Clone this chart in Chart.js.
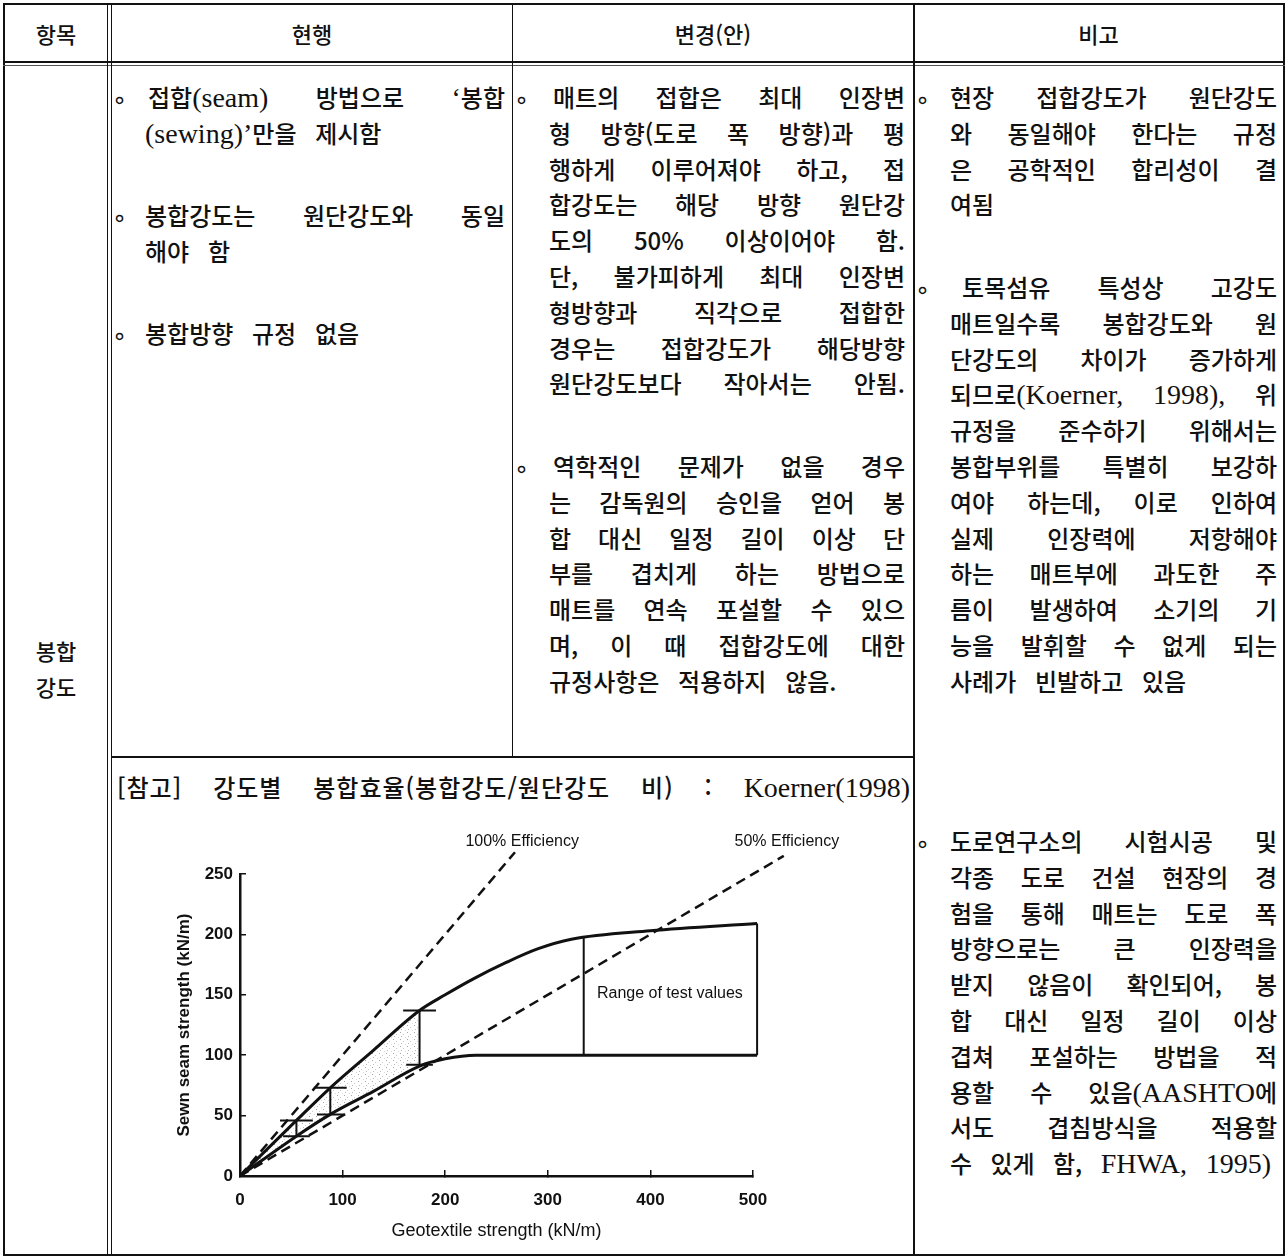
<!DOCTYPE html>
<html lang="ko">
<head>
<meta charset="utf-8">
<script src="https://cdn.jsdelivr.net/npm/chart.js@4.4.1/dist/chart.umd.min.js"></script>
<style>
html,body{margin:0;padding:0;background:#fff;}
body{width:1288px;height:1260px;position:relative;overflow:hidden;font-family:"Noto Sans CJK KR",sans-serif;color:#111;}
.ln{position:absolute;background:#111;}
.hd{position:absolute;font-size:22px;line-height:30px;top:18px;text-align:center;font-weight:500;}
.p{position:absolute;font-size:24px;line-height:35.8px;font-weight:500;}
.p div{height:35.8px;overflow:visible;white-space:nowrap;}
.j{text-align:justify;text-align-last:justify;white-space:normal!important;}
.l{text-align:left;word-spacing:12px;}
.s{font-family:"Liberation Serif",serif;font-size:28px;font-weight:400;word-spacing:0;}
.b{position:absolute;font-family:"DejaVu Sans",sans-serif;font-size:24px;line-height:24px;}
#wrap{position:absolute;left:140px;top:800px;width:720px;height:452px;}
</style>
</head>
<body>
<!-- table frame -->
<div class="ln" style="left:3px;top:3px;width:1282px;height:2px"></div>
<div class="ln" style="left:3px;top:1254px;width:1282px;height:2px"></div>
<div class="ln" style="left:3px;top:3px;width:2px;height:1253px"></div>
<div class="ln" style="left:1283px;top:3px;width:2px;height:1253px"></div>
<div class="ln" style="left:3px;top:61px;width:1282px;height:2px"></div>
<div class="ln" style="left:3px;top:65px;width:1282px;height:1px;background:#555"></div>
<div class="ln" style="left:107px;top:3px;width:1px;height:1253px"></div>
<div class="ln" style="left:111px;top:3px;width:1px;height:1253px"></div>
<div class="ln" style="left:512px;top:3px;width:1px;height:754px"></div>
<div class="ln" style="left:913px;top:3px;width:1.5px;height:1253px"></div>
<div class="ln" style="left:111px;top:756px;width:803px;height:1.5px"></div>

<!-- header -->
<div class="hd" style="left:5px;width:102px">항목</div>
<div class="hd" style="left:112px;width:400px">현행</div>
<div class="hd" style="left:513px;width:400px">변경(안)</div>
<div class="hd" style="left:914px;width:369px">비고</div>

<div class="hd" style="left:5px;width:102px;top:632px;line-height:36px">봉합<br>강도</div>

<!-- column 2 -->
<div class="b" style="left:112px;top:88px">∘</div>
<div class="p" style="left:145px;top:79px;width:360px">
<div class="j" style="padding-left:3px">접합<span class="s">(seam)</span> 방법으로 <span class="s">‘</span>봉합</div>
<div class="l"><span class="s">(sewing)’</span>만을 제시함</div>
</div>
<div class="b" style="left:112px;top:206px">∘</div>
<div class="p" style="left:145px;top:197px;width:360px">
<div class="j">봉합강도는 원단강도와 동일</div>
<div class="l">해야 함</div>
</div>
<div class="b" style="left:112px;top:324px">∘</div>
<div class="p" style="left:145px;top:315px;width:360px">
<div class="l">봉합방향 규정 없음</div>
</div>

<!-- column 3 -->
<div class="b" style="left:514px;top:88px">∘</div>
<div class="p" style="left:549px;top:79px;width:356px">
<div class="j" style="padding-left:4px">매트의 접합은 최대 인장변</div>
<div class="j">형 방향(도로 폭 방향)과 평</div>
<div class="j">행하게 이루어져야 하고, 접</div>
<div class="j">합강도는 해당 방향 원단강</div>
<div class="j">도의 50% 이상이어야 함.</div>
<div class="j">단, 불가피하게 최대 인장변</div>
<div class="j">형방향과 직각으로 접합한</div>
<div class="j">경우는 접합강도가 해당방향</div>
<div class="j">원단강도보다 작아서는 안됨.</div>
</div>
<div class="b" style="left:514px;top:457px">∘</div>
<div class="p" style="left:549px;top:448px;width:356px">
<div class="j" style="padding-left:4px">역학적인 문제가 없을 경우</div>
<div class="j">는 감독원의 승인을 얻어 봉</div>
<div class="j">합 대신 일정 길이 이상 단</div>
<div class="j">부를 겹치게 하는 방법으로</div>
<div class="j">매트를 연속 포설할 수 있으</div>
<div class="j">며, 이 때 접합강도에 대한</div>
<div class="l">규정사항은 적용하지 않음.</div>
</div>

<!-- column 4 -->
<div class="b" style="left:915px;top:88px">∘</div>
<div class="p" style="left:950px;top:79px;width:327px">
<div class="j">현장 접합강도가 원단강도</div>
<div class="j">와 동일해야 한다는 규정</div>
<div class="j">은 공학적인 합리성이 결</div>
<div class="l">여됨</div>
</div>
<div class="b" style="left:915px;top:278px">∘</div>
<div class="p" style="left:950px;top:269px;width:327px">
<div class="j" style="padding-left:12px">토목섬유 특성상 고강도</div>
<div class="j">매트일수록 봉합강도와 원</div>
<div class="j">단강도의 차이가 증가하게</div>
<div class="j">되므로<span class="s">(Koerner, 1998),</span> 위</div>
<div class="j">규정을 준수하기 위해서는</div>
<div class="j">봉합부위를 특별히 보강하</div>
<div class="j">여야 하는데, 이로 인하여</div>
<div class="j">실제 인장력에 저항해야</div>
<div class="j">하는 매트부에 과도한 주</div>
<div class="j">름이 발생하여 소기의 기</div>
<div class="j">능을 발휘할 수 없게 되는</div>
<div class="l">사례가 빈발하고 있음</div>
</div>
<div class="b" style="left:915px;top:832px">∘</div>
<div class="p" style="left:950px;top:823px;width:327px">
<div class="j">도로연구소의 시험시공 및</div>
<div class="j">각종 도로 건설 현장의 경</div>
<div class="j">험을 통해 매트는 도로 폭</div>
<div class="j">방향으로는 큰 인장력을</div>
<div class="j">받지 않음이 확인되어, 봉</div>
<div class="j">합 대신 일정 길이 이상</div>
<div class="j">겹쳐 포설하는 방법을 적</div>
<div class="j">용할 수 있음<span class="s">(AASHTO</span>에</div>
<div class="j">서도 겹침방식을 적용할</div>
<div class="j" style="padding-right:6px">수 있게 함, <span class="s">FHWA, 1995)</span></div>
</div>

<!-- chart caption -->
<div class="p" style="left:117px;top:769px;width:793px">
<div class="j" style="letter-spacing:1px">[참고] 강도별 봉합효율(봉합강도/원단강도 비) : <span class="s" style="letter-spacing:0">Koerner(1998)</span></div>
</div>

<div id="wrap"><canvas id="c" width="720" height="452"></canvas></div>

<script>
// ---- data ----
const xTicks = [0, 100, 200, 300, 400, 500];
const yTicks = [0, 50, 100, 150, 200, 250];
const upperX = [0, 55, 88, 130, 175, 200, 227, 260, 290, 323, 400, 504];
const upperY = [0, 46, 73, 104, 137, 150, 163, 177, 188, 196, 203, 209];
const lowerX = [0, 55, 88, 130, 175, 200, 230, 300, 400, 504];
const lowerY = [0, 33, 51, 70, 91, 97, 100, 100, 100, 100];
const eff100X = [0, 268];
const eff100Y = [0, 268];
const eff50X = [0, 530];
const eff50Y = [0, 265];
const barX = [55, 88, 175];
const barLow = [33, 51, 92];
const barHigh = [46, 73, 137];
const rangeX = [335, 504];
const rangeLow = [100, 100];
const rangeHigh = [197, 209];
const shadeMaxX = 175;
const noteText = ['100% Efficiency', '50% Efficiency', 'Range of test values'];
const noteX = [275, 533, 419];
const noteY = [277, 277, 151];

// ---- build point lists ----
const pts = (xs, ys) => xs.map((x, i) => ({x, y: ys[i]}));
const GAP = {x: null, y: null};
const capTop = 16, capBot = 13;
const barPts = [];
barX.forEach((x, i) => {
  barPts.push({x, y: barLow[i]}, {x, y: barHigh[i]}, GAP);
  barPts.push({x: x - capTop, y: barHigh[i]}, {x: x + capTop, y: barHigh[i]}, GAP);
  barPts.push({x: x - capBot, y: barLow[i]}, {x: x + capBot, y: barLow[i]}, GAP);
});
const rangePts = [];
rangeX.forEach((x, i) => { rangePts.push({x, y: rangeLow[i]}, {x, y: rangeHigh[i]}, GAP); });
const shadeTop = pts(upperX, upperY).filter(p => p.x <= shadeMaxX);
const shadeBot = pts(lowerX, lowerY).filter(p => p.x <= shadeMaxX);

// stipple pattern
const pc = document.createElement('canvas');
pc.width = 7; pc.height = 7;
const pctx = pc.getContext('2d');
[[1, 1, 0.35], [4, 3, 0.22], [2, 5, 0.28], [6, 6, 0.15]].forEach(([x, y, a]) => {
  pctx.fillStyle = 'rgba(0,0,0,' + a + ')';
  pctx.fillRect(x, y, 1, 1);
});
const ctx = document.getElementById('c').getContext('2d');
const stipple = ctx.createPattern(pc, 'repeat');

const INK = '#111';
const FONT = '"Liberation Sans", Arial, sans-serif';
const base = {pointRadius: 0, pointHoverRadius: 0, borderColor: INK, clip: false, fill: false, spanGaps: false};

const notesPlugin = {
  id: 'notes',
  afterDatasetsDraw(chart) {
    const {ctx, scales: {x, y}} = chart;
    ctx.save();
    ctx.fillStyle = INK;
    ctx.font = '16px ' + FONT;
    ctx.textAlign = 'center';
    ctx.textBaseline = 'middle';
    noteText.forEach((t, i) => ctx.fillText(t, x.getPixelForValue(noteX[i]), y.getPixelForValue(noteY[i])));
    ctx.restore();
  }
};

new Chart(ctx, {
  type: 'scatter',
  data: {
    datasets: [
      Object.assign({}, base, {label: 'upper', data: pts(upperX, upperY), showLine: true, borderWidth: 3, cubicInterpolationMode: 'monotone'}),
      Object.assign({}, base, {label: 'lower', data: pts(lowerX, lowerY), showLine: true, borderWidth: 3, cubicInterpolationMode: 'monotone'}),
      Object.assign({}, base, {label: 'bars', data: barPts, showLine: true, borderWidth: 2}),
      Object.assign({}, base, {label: 'range', data: rangePts, showLine: true, borderWidth: 2}),
      Object.assign({}, base, {label: '100%', data: pts(eff100X, eff100Y), showLine: true, borderWidth: 2.5, borderDash: [10, 6]}),
      Object.assign({}, base, {label: '50%', data: pts(eff50X, eff50Y), showLine: true, borderWidth: 2.5, borderDash: [10, 6]}),
      Object.assign({}, base, {label: 'shadeTop', data: shadeTop, showLine: true, borderWidth: 0, borderColor: 'rgba(0,0,0,0)', cubicInterpolationMode: 'monotone', fill: '+1', backgroundColor: stipple}),
      Object.assign({}, base, {label: 'shadeBot', data: shadeBot, showLine: true, borderWidth: 0, borderColor: 'rgba(0,0,0,0)', cubicInterpolationMode: 'monotone'})
    ]
  },
  options: {
    responsive: false,
    animation: false,
    devicePixelRatio: 1,
    layout: {padding: {left: 20, right: 107, top: 74, bottom: 0}},
    plugins: {legend: {display: false}, tooltip: {enabled: false}},
    scales: {
      x: {
        type: 'linear', min: 0, max: 500,
        afterFit: s => { s.height = 76; },
        afterBuildTicks: s => { s.ticks = xTicks.map(v => ({value: v})); },
        grid: {display: true, drawOnChartArea: false, drawTicks: true, tickLength: -6, color: INK, lineWidth: 1.5},
        border: {display: true, color: INK, width: 2.5},
        ticks: {padding: 20, color: INK, font: {family: FONT, size: 17, weight: 'bold'}},
        title: {display: true, text: 'Geotextile strength (kN/m)', color: INK, padding: {top: 0, bottom: 10}, font: {family: FONT, size: 18}}
      },
      y: {
        type: 'linear', min: 0, max: 250,
        afterFit: s => { s.width = 80; },
        afterBuildTicks: s => { s.ticks = yTicks.map(v => ({value: v})); },
        grid: {display: true, drawOnChartArea: false, drawTicks: true, tickLength: -6, color: INK, lineWidth: 1.5},
        border: {display: true, color: INK, width: 2.5},
        ticks: {padding: 13, color: INK, font: {family: FONT, size: 17, weight: 'bold'}},
        title: {display: true, text: 'Sewn seam strength (kN/m)', color: INK, padding: {top: 14, bottom: 0}, font: {family: FONT, size: 17, weight: 'bold'}}
      }
    }
  },
  plugins: [notesPlugin]
});
</script>
</body>
</html>
